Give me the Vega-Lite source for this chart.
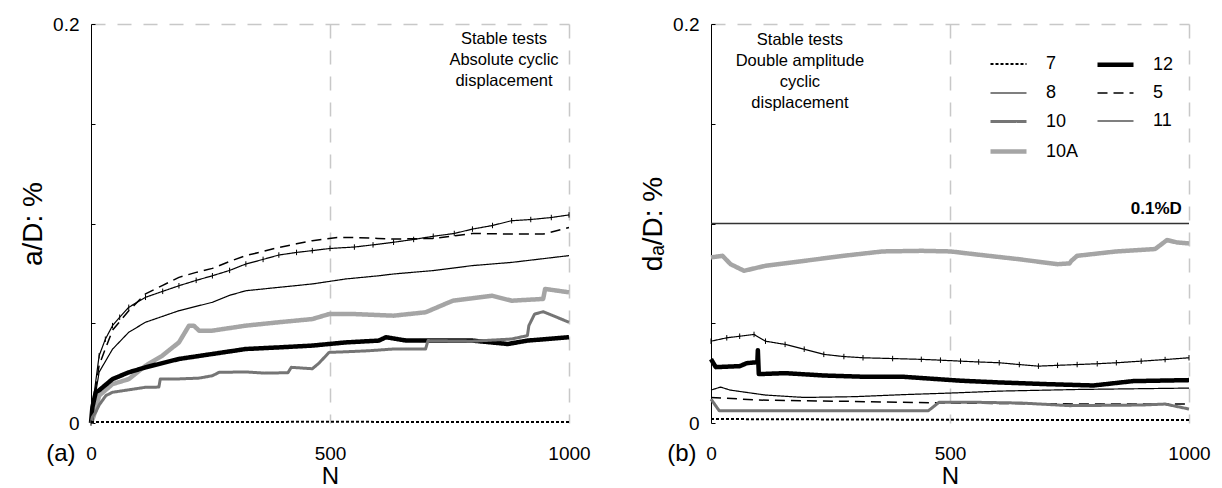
{
  "$schema": "https://vega.github.io/schema/vega-lite/v6.json",
  "padding": {"left": 19, "top": 15, "right": 5, "bottom": 0},
  "background": "white",
  "spacing": 142,
  "bounds": "flush",
  "config": {
    "view": {"stroke": null},
    "font": "Liberation Sans",
    "axis": {"labelFont": "Liberation Sans", "titleFont": "Liberation Sans"},
    "legend": {"labelFont": "Liberation Sans"}
  },
  "datasets": {
    "a": [
      {"s":"11","n":0,"v":0},{"s":"11","n":5,"v":0.012},{"s":"11","n":17,"v":0.0337},{"s":"11","n":30,"v":0.042},{"s":"11","n":45,"v":0.0488},{"s":"11","n":60,"v":0.053},{"s":"11","n":79,"v":0.058},{"s":"11","n":114,"v":0.063},{"s":"11","n":150,"v":0.066},{"s":"11","n":184,"v":0.0688},{"s":"11","n":220,"v":0.0715},{"s":"11","n":254,"v":0.0738},{"s":"11","n":290,"v":0.0765},{"s":"11","n":324,"v":0.0797},{"s":"11","n":360,"v":0.082},{"s":"11","n":393,"v":0.0842},{"s":"11","n":430,"v":0.0855},{"s":"11","n":463,"v":0.0864},{"s":"11","n":500,"v":0.0875},{"s":"11","n":551,"v":0.0882},{"s":"11","n":590,"v":0.0893},{"s":"11","n":633,"v":0.0906},{"s":"11","n":675,"v":0.092},{"s":"11","n":716,"v":0.0936},{"s":"11","n":760,"v":0.095},{"s":"11","n":798,"v":0.0972},{"s":"11","n":840,"v":0.099},{"s":"11","n":880,"v":0.1014},{"s":"11","n":920,"v":0.102},{"s":"11","n":963,"v":0.103},{"s":"11","n":1000,"v":0.1043},
      {"s":"5","n":0,"v":0},{"s":"5","n":5,"v":0.010},{"s":"5","n":17,"v":0.029},{"s":"5","n":45,"v":0.0465},{"s":"5","n":79,"v":0.0563},{"s":"5","n":114,"v":0.0647},{"s":"5","n":150,"v":0.069},{"s":"5","n":184,"v":0.073},{"s":"5","n":220,"v":0.0755},{"s":"5","n":254,"v":0.0775},{"s":"5","n":290,"v":0.081},{"s":"5","n":324,"v":0.0839},{"s":"5","n":360,"v":0.086},{"s":"5","n":393,"v":0.088},{"s":"5","n":430,"v":0.0898},{"s":"5","n":463,"v":0.0914},{"s":"5","n":515,"v":0.093},{"s":"5","n":551,"v":0.093},{"s":"5","n":600,"v":0.0925},{"s":"5","n":633,"v":0.0922},{"s":"5","n":716,"v":0.0925},{"s":"5","n":798,"v":0.095},{"s":"5","n":880,"v":0.0947},{"s":"5","n":946,"v":0.0947},{"s":"5","n":1000,"v":0.098},
      {"s":"8","n":0,"v":0},{"s":"8","n":5,"v":0.008},{"s":"8","n":17,"v":0.0255},{"s":"8","n":45,"v":0.037},{"s":"8","n":79,"v":0.0455},{"s":"8","n":114,"v":0.0505},{"s":"8","n":184,"v":0.0563},{"s":"8","n":254,"v":0.0605},{"s":"8","n":290,"v":0.064},{"s":"8","n":324,"v":0.0663},{"s":"8","n":393,"v":0.068},{"s":"8","n":463,"v":0.0697},{"s":"8","n":533,"v":0.0722},{"s":"8","n":602,"v":0.0738},{"s":"8","n":633,"v":0.0747},{"s":"8","n":716,"v":0.0764},{"s":"8","n":798,"v":0.0789},{"s":"8","n":880,"v":0.0805},{"s":"8","n":1000,"v":0.0839},
      {"s":"10A","n":0,"v":0},{"s":"10A","n":5,"v":0.003},{"s":"10A","n":10,"v":0.007},{"s":"10A","n":17,"v":0.0137},{"s":"10A","n":45,"v":0.0195},{"s":"10A","n":79,"v":0.022},{"s":"10A","n":114,"v":0.0287},{"s":"10A","n":149,"v":0.0337},{"s":"10A","n":184,"v":0.0404},{"s":"10A","n":205,"v":0.0488},{"s":"10A","n":215,"v":0.0488},{"s":"10A","n":226,"v":0.0463},{"s":"10A","n":254,"v":0.0463},{"s":"10A","n":324,"v":0.0488},{"s":"10A","n":393,"v":0.0505},{"s":"10A","n":463,"v":0.0521},{"s":"10A","n":498,"v":0.0546},{"s":"10A","n":551,"v":0.0546},{"s":"10A","n":633,"v":0.0538},{"s":"10A","n":700,"v":0.0555},{"s":"10A","n":757,"v":0.0613},{"s":"10A","n":839,"v":0.0638},{"s":"10A","n":880,"v":0.0613},{"s":"10A","n":946,"v":0.0622},{"s":"10A","n":950,"v":0.0672},{"s":"10A","n":1000,"v":0.0655},
      {"s":"12","n":0,"v":0},{"s":"12","n":3,"v":0.008},{"s":"12","n":10,"v":0.0154},{"s":"12","n":17,"v":0.0164},{"s":"12","n":45,"v":0.022},{"s":"12","n":79,"v":0.0254},{"s":"12","n":114,"v":0.0279},{"s":"12","n":184,"v":0.0321},{"s":"12","n":254,"v":0.0346},{"s":"12","n":324,"v":0.0371},{"s":"12","n":393,"v":0.0379},{"s":"12","n":463,"v":0.0388},{"s":"12","n":533,"v":0.0404},{"s":"12","n":602,"v":0.0413},{"s":"12","n":617,"v":0.043},{"s":"12","n":660,"v":0.0413},{"s":"12","n":716,"v":0.0413},{"s":"12","n":798,"v":0.0413},{"s":"12","n":872,"v":0.0396},{"s":"12","n":913,"v":0.0413},{"s":"12","n":1000,"v":0.043},
      {"s":"10","n":0,"v":0},{"s":"10","n":3,"v":0.003},{"s":"10","n":10,"v":0.0055},{"s":"10","n":17,"v":0.009},{"s":"10","n":31,"v":0.0137},{"s":"10","n":45,"v":0.0154},{"s":"10","n":114,"v":0.0179},{"s":"10","n":142,"v":0.018},{"s":"10","n":145,"v":0.0221},{"s":"10","n":184,"v":0.0221},{"s":"10","n":226,"v":0.0225},{"s":"10","n":254,"v":0.0237},{"s":"10","n":268,"v":0.0254},{"s":"10","n":324,"v":0.0256},{"s":"10","n":363,"v":0.025},{"s":"10","n":412,"v":0.0252},{"s":"10","n":419,"v":0.0279},{"s":"10","n":463,"v":0.0272},{"s":"10","n":477,"v":0.030},{"s":"10","n":498,"v":0.0354},{"s":"10","n":533,"v":0.0357},{"s":"10","n":580,"v":0.0362},{"s":"10","n":633,"v":0.0371},{"s":"10","n":700,"v":0.0371},{"s":"10","n":705,"v":0.0413},{"s":"10","n":798,"v":0.041},{"s":"10","n":880,"v":0.0421},{"s":"10","n":913,"v":0.0438},{"s":"10","n":916,"v":0.0488},{"s":"10","n":928,"v":0.0546},{"s":"10","n":946,"v":0.0558},{"s":"10","n":1000,"v":0.0505},
      {"s":"7","n":0,"v":0.0005},{"s":"7","n":250,"v":0.0005},{"s":"7","n":500,"v":0.0006},{"s":"7","n":750,"v":0.0005},{"s":"7","n":1000,"v":0.0005}
    ],
    "b": [
      {"s":"10A","n":0,"v":0.083},{"s":"10A","n":24,"v":0.0838},{"s":"10A","n":41,"v":0.0796},{"s":"10A","n":69,"v":0.0763},{"s":"10A","n":114,"v":0.0788},{"s":"10A","n":196,"v":0.0813},{"s":"10A","n":277,"v":0.0838},{"s":"10A","n":359,"v":0.086},{"s":"10A","n":440,"v":0.0863},{"s":"10A","n":501,"v":0.086},{"s":"10A","n":562,"v":0.0843},{"s":"10A","n":644,"v":0.0821},{"s":"10A","n":725,"v":0.0796},{"s":"10A","n":750,"v":0.080},{"s":"10A","n":754,"v":0.0813},{"s":"10A","n":766,"v":0.0838},{"s":"10A","n":848,"v":0.086},{"s":"10A","n":929,"v":0.0872},{"s":"10A","n":954,"v":0.0917},{"s":"10A","n":975,"v":0.0905},{"s":"10A","n":1000,"v":0.090},
      {"s":"11","n":0,"v":0.041},{"s":"11","n":33,"v":0.0427},{"s":"11","n":60,"v":0.0435},{"s":"11","n":90,"v":0.0444},{"s":"11","n":114,"v":0.041},{"s":"11","n":155,"v":0.0394},{"s":"11","n":195,"v":0.037},{"s":"11","n":236,"v":0.0344},{"s":"11","n":278,"v":0.0333},{"s":"11","n":318,"v":0.0327},{"s":"11","n":380,"v":0.0323},{"s":"11","n":440,"v":0.0319},{"s":"11","n":480,"v":0.0315},{"s":"11","n":522,"v":0.031},{"s":"11","n":560,"v":0.0306},{"s":"11","n":603,"v":0.0302},{"s":"11","n":645,"v":0.0293},{"s":"11","n":685,"v":0.0285},{"s":"11","n":725,"v":0.0289},{"s":"11","n":766,"v":0.0293},{"s":"11","n":808,"v":0.0297},{"s":"11","n":848,"v":0.0302},{"s":"11","n":900,"v":0.031},{"s":"11","n":950,"v":0.0318},{"s":"11","n":1000,"v":0.0327},
      {"s":"12","n":0,"v":0.032},{"s":"12","n":10,"v":0.028},{"s":"12","n":60,"v":0.0285},{"s":"12","n":75,"v":0.030},{"s":"12","n":97,"v":0.0305},{"s":"12","n":98,"v":0.0365},{"s":"12","n":100,"v":0.0245},{"s":"12","n":155,"v":0.025},{"s":"12","n":236,"v":0.0238},{"s":"12","n":318,"v":0.0232},{"s":"12","n":400,"v":0.0232},{"s":"12","n":522,"v":0.0212},{"s":"12","n":606,"v":0.0203},{"s":"12","n":700,"v":0.0195},{"s":"12","n":800,"v":0.0188},{"s":"12","n":883,"v":0.021},{"s":"12","n":1000,"v":0.0215},
      {"s":"8","n":0,"v":0.0165},{"s":"8","n":20,"v":0.018},{"s":"8","n":40,"v":0.0165},{"s":"8","n":114,"v":0.014},{"s":"8","n":196,"v":0.0128},{"s":"8","n":300,"v":0.0132},{"s":"8","n":400,"v":0.0142},{"s":"8","n":500,"v":0.015},{"s":"8","n":606,"v":0.016},{"s":"8","n":766,"v":0.0168},{"s":"8","n":1000,"v":0.0175},
      {"s":"5","n":0,"v":0.0128},{"s":"5","n":100,"v":0.0115},{"s":"5","n":300,"v":0.0108},{"s":"5","n":500,"v":0.010},{"s":"5","n":700,"v":0.0096},{"s":"5","n":1000,"v":0.0095},
      {"s":"10","n":0,"v":0.012},{"s":"10","n":17,"v":0.0062},{"s":"10","n":100,"v":0.0062},{"s":"10","n":455,"v":0.0062},{"s":"10","n":477,"v":0.0104},{"s":"10","n":550,"v":0.0104},{"s":"10","n":650,"v":0.010},{"s":"10","n":750,"v":0.0087},{"s":"10","n":900,"v":0.009},{"s":"10","n":950,"v":0.0095},{"s":"10","n":1000,"v":0.007},
      {"s":"7","n":0,"v":0.002},{"s":"7","n":250,"v":0.0018},{"s":"7","n":500,"v":0.0016},{"s":"7","n":750,"v":0.0015},{"s":"7","n":1000,"v":0.0015}
    ]
  },
  "hconcat": [
    {
      "width": 478,
      "height": 399,
      "layer": [
        {
          "data": {"name": "a"},
          "mark": {"type": "line", "strokeJoin": "round"},
          "encoding": {
            "x": {"field": "n", "type": "quantitative", "scale": {"domain": [0, 1000], "nice": false},
              "axis": {"values": [0, 500, 1000], "format": "d", "grid": true, "gridColor": "#c8c8c8", "gridDash": [14, 12], "gridWidth": 1.5,
                "gridOpacity": {"condition": {"test": "datum.value > 0", "value": 1}, "value": 0},
                "domain": false, "ticks": false, "labelFontSize": 19, "labelPadding": 21, "labelColor": "black", "labelFlush": false,
                "title": "N", "titleFontSize": 24, "titleFontWeight": "normal", "titleColor": "black", "titlePadding": 1}},
            "y": {"field": "v", "type": "quantitative", "scale": {"domain": [0, 0.2], "nice": false, "zero": false},
              "axis": {"values": [0, 0.05, 0.1, 0.15, 0.2], "grid": true, "gridColor": "#c8c8c8", "gridDash": [14, 12], "gridWidth": 1.5,
                "gridOpacity": {"condition": {"test": "datum.value > 0.19", "value": 1}, "value": 0},
                "domainColor": "black", "domainWidth": 1, "ticks": true, "tickSize": -4, "tickColor": "black",
                "labelExpr": "datum.value == 0 ? '0' : (datum.value > 0.19 ? '0.2' : '')",
                "labelFontSize": 19, "labelPadding": 16, "labelColor": "black", "labelFlush": false,
                "title": "a/D: %", "titleFontSize": 28, "titleFontWeight": "normal", "titleColor": "black", "titlePadding": 5}},
            "color": {"field": "s", "type": "nominal",
              "scale": {"domain": ["7", "8", "10", "10A", "12", "5", "11"], "range": ["#000000", "#000000", "#757575", "#a5a5a5", "#000000", "#000000", "#000000"]},
              "legend": {"orient": "none", "legendX": 897, "legendY": 20, "columns": 2, "title": null, "symbolType": "stroke", "symbolSize": 1296, "labelFontSize": 18, "labelColor": "black", "labelOffset": 17, "rowPadding": -1, "columnPadding": 9, "padding": 0}},
            "strokeWidth": {"field": "s", "type": "nominal",
              "scale": {"type": "ordinal", "domain": ["7", "8", "10", "10A", "12", "5", "11"], "range": [2, 1.2, 3, 4.5, 4.5, 1.5, 1.2]},
              "legend": {"orient": "none", "legendX": 897, "legendY": 20, "columns": 2, "title": null, "symbolType": "stroke", "symbolSize": 1296, "labelFontSize": 18, "labelColor": "black", "labelOffset": 17, "rowPadding": -1, "columnPadding": 9, "padding": 0}},
            "strokeDash": {"field": "s", "type": "nominal",
              "scale": {"domain": ["7", "8", "10", "10A", "12", "5", "11"], "range": [[3, 2], [1, 0], [1, 0], [1, 0], [1, 0], [10, 6], [1, 0]]},
              "legend": {"orient": "none", "legendX": 897, "legendY": 20, "columns": 2, "title": null, "symbolType": "stroke", "symbolSize": 1296, "labelFontSize": 18, "labelColor": "black", "labelOffset": 17, "rowPadding": -1, "columnPadding": 9, "padding": 0}}
          }
        },
        {
          "data": {"name": "a"},
          "transform": [{"filter": "datum.s == '11'"}],
          "mark": {"type": "point", "shape": "M0,-1L0,1", "size": 30, "strokeWidth": 1, "color": "black", "filled": false, "opacity": 1},
          "encoding": {"x": {"field": "n", "type": "quantitative"}, "y": {"field": "v", "type": "quantitative"}}
        },
        {
          "data": {"values": [{}]},
          "mark": {"type": "text", "text": ["Stable tests", "Absolute cyclic", "displacement"], "align": "center", "baseline": "top", "fontSize": 16.5, "lineHeight": 21, "color": "black"},
          "encoding": {"x": {"datum": 864, "type": "quantitative"}, "y": {"datum": 0.1965, "type": "quantitative"}}
        },
        {
          "data": {"values": [{}]},
          "mark": {"type": "text", "text": "(a)", "align": "center", "baseline": "middle", "fontSize": 24, "color": "black"},
          "encoding": {"x": {"datum": -63, "type": "quantitative"}, "y": {"datum": -0.0155, "type": "quantitative"}}
        }
      ]
    },
    {
      "width": 478,
      "height": 399,
      "layer": [
        {
          "data": {"values": [{}]},
          "mark": {"type": "rule", "color": "#333333", "strokeWidth": 1.3},
          "encoding": {"y": {"datum": 0.1, "type": "quantitative"}}
        },
        {
          "data": {"name": "b"},
          "mark": {"type": "line", "strokeJoin": "round"},
          "encoding": {
            "x": {"field": "n", "type": "quantitative", "scale": {"domain": [0, 1000], "nice": false},
              "axis": {"values": [0, 500, 1000], "format": "d", "grid": true, "gridColor": "#c8c8c8", "gridDash": [14, 12], "gridWidth": 1.5,
                "gridOpacity": {"condition": {"test": "datum.value > 0", "value": 1}, "value": 0},
                "domain": false, "ticks": false, "labelFontSize": 19, "labelPadding": 21, "labelColor": "black", "labelFlush": false,
                "title": "N", "titleFontSize": 24, "titleFontWeight": "normal", "titleColor": "black", "titlePadding": 1}},
            "y": {"field": "v", "type": "quantitative", "scale": {"domain": [0, 0.2], "nice": false, "zero": false},
              "axis": {"values": [0, 0.05, 0.1, 0.15, 0.2], "grid": true, "gridColor": "#c8c8c8", "gridDash": [14, 12], "gridWidth": 1.5,
                "gridOpacity": {"condition": {"test": "datum.value > 0.19", "value": 1}, "value": 0},
                "domainColor": "black", "domainWidth": 1, "ticks": true, "tickSize": -4, "tickColor": "black",
                "labelExpr": "datum.value == 0 ? '0' : (datum.value > 0.19 ? '0.2' : '')",
                "labelFontSize": 19, "labelPadding": 16, "labelColor": "black", "labelFlush": false,
                "title": "dₐ/D: %", "titleFontSize": 28, "titleFontWeight": "normal", "titleColor": "black", "titlePadding": 5}},
            "color": {"field": "s", "type": "nominal",
              "scale": {"domain": ["7", "8", "10", "10A", "12", "5", "11"], "range": ["#000000", "#000000", "#757575", "#a5a5a5", "#000000", "#000000", "#000000"]},
              "legend": {"orient": "none", "legendX": 897, "legendY": 20, "columns": 2, "title": null, "symbolType": "stroke", "symbolSize": 1296, "labelFontSize": 18, "labelColor": "black", "labelOffset": 17, "rowPadding": -1, "columnPadding": 9, "padding": 0}},
            "strokeWidth": {"field": "s", "type": "nominal",
              "scale": {"type": "ordinal", "domain": ["7", "8", "10", "10A", "12", "5", "11"], "range": [2, 1.2, 3, 4.5, 4.5, 1.5, 1.2]},
              "legend": {"orient": "none", "legendX": 897, "legendY": 20, "columns": 2, "title": null, "symbolType": "stroke", "symbolSize": 1296, "labelFontSize": 18, "labelColor": "black", "labelOffset": 17, "rowPadding": -1, "columnPadding": 9, "padding": 0}},
            "strokeDash": {"field": "s", "type": "nominal",
              "scale": {"domain": ["7", "8", "10", "10A", "12", "5", "11"], "range": [[3, 2], [1, 0], [1, 0], [1, 0], [1, 0], [10, 6], [1, 0]]},
              "legend": {"orient": "none", "legendX": 897, "legendY": 20, "columns": 2, "title": null, "symbolType": "stroke", "symbolSize": 1296, "labelFontSize": 18, "labelColor": "black", "labelOffset": 17, "rowPadding": -1, "columnPadding": 9, "padding": 0}}
          }
        },
        {
          "data": {"name": "b"},
          "transform": [{"filter": "datum.s == '11'"}],
          "mark": {"type": "point", "shape": "M0,-1L0,1", "size": 30, "strokeWidth": 1, "color": "black", "filled": false, "opacity": 1},
          "encoding": {"x": {"field": "n", "type": "quantitative"}, "y": {"field": "v", "type": "quantitative"}}
        },
        {
          "data": {"values": [{}]},
          "mark": {"type": "text", "text": "0.1%D", "align": "right", "baseline": "alphabetic", "dy": -10, "fontSize": 17, "fontWeight": "bold", "color": "black"},
          "encoding": {"x": {"datum": 985, "type": "quantitative"}, "y": {"datum": 0.1, "type": "quantitative"}}
        },
        {
          "data": {"values": [{}]},
          "mark": {"type": "text", "text": ["Stable tests", "Double amplitude", "cyclic", "displacement"], "align": "center", "baseline": "top", "fontSize": 16.5, "lineHeight": 21, "color": "black"},
          "encoding": {"x": {"datum": 186, "type": "quantitative"}, "y": {"datum": 0.196, "type": "quantitative"}}
        },
        {
          "data": {"values": [{}]},
          "mark": {"type": "text", "text": "(b)", "align": "center", "baseline": "middle", "fontSize": 24, "color": "black"},
          "encoding": {"x": {"datum": -61, "type": "quantitative"}, "y": {"datum": -0.0155, "type": "quantitative"}}
        }
      ]
    }
  ]
}
